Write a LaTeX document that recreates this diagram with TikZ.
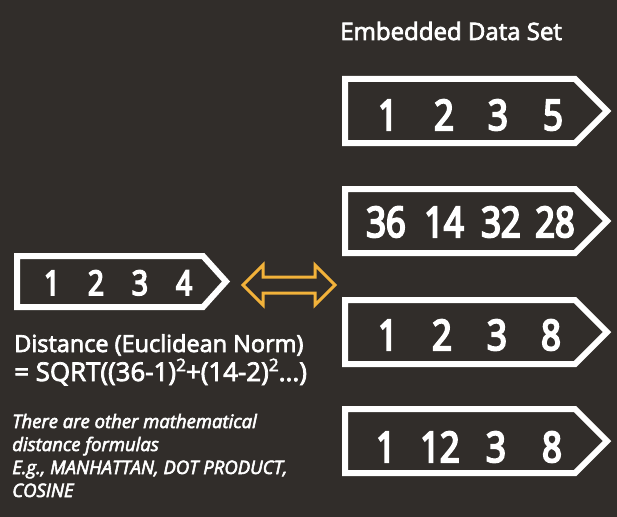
\documentclass[tikz,border=0pt]{standalone}
\usepackage{fontspec}
\setmainfont{Open Sans}[RawFeature={embolden=3}]
\newfontfamily\numfont{Open Sans}[FakeStretch=0.82, RawFeature={embolden=5}]
\definecolor{bgdark}{RGB}{49,45,42}
\definecolor{arrowor}{RGB}{242,178,58}
\tikzset{
  tagframe/.style={draw=white, line width=4.5pt, line join=miter},
  bignum/.style={text=white, inner sep=0pt, anchor=base, font=\numfont\fontsize{31.5}{32}\selectfont},
  smallnum/.style={text=white, inner sep=0pt, anchor=base, font=\numfont\fontsize{25.5}{26}\selectfont},
  lbl/.style={text=white, inner sep=0pt, anchor=base west},
  note/.style={text=white, inner sep=0pt, anchor=base west, font=\itshape\fontsize{13.9}{15}\selectfont},
  dblarrow/.style={draw=arrowor, line width=2.25pt, line join=miter}
}
\newcommand\tagbox[2]{%
  \draw[tagframe] (345,#1-32) coordinate (#2nw) -- (575,#1-32) -- (607,#1) coordinate (#2tip)
    -- (575,#1+32) -- (345,#1+32) -- cycle;}
\newcommand\sqsup{\raisebox{0.38em}{\fontsize{13}{13}\selectfont 2}}
\begin{document}
\begin{tikzpicture}[x=0.75pt,y=-0.75pt]
\fill[bgdark] (0,0) rectangle (617,517);
\useasboundingbox (0,0) rectangle (617,517);

\node[lbl, font=\fontsize{18}{20}\selectfont] (title) at (340,40) {Embedded Data Set};

% right-hand boxes
\tagbox{111}{boxa}
\tagbox{221}{boxb}
\tagbox{332}{boxc}
\tagbox{441}{boxd}

\foreach \x/\t [count=\i] in {388/1,444/2,498/3,553/5}
  \node[bignum] (a\i) at (\x,130) {\t};
\foreach \x/\t [count=\i] in {386/36,444/14,501/32,555/28}
  \node[bignum] (b\i) at (\x,237) {\t};
\foreach \x/\t [count=\i] in {388/1,442/2,497/3,551/8}
  \node[bignum] (c\i) at (\x,350) {\t};
\foreach \x/\t [count=\i] in {386/1,440/12,496/3,552/8}
  \node[bignum] (d\i) at (\x,462) {\t};

% query box
\draw[tagframe] (17,256) coordinate (qnw) -- (203,256) -- (226,281.5) coordinate (qtip)
  -- (203,307) -- (17,307) -- cycle;
\foreach \x/\t [count=\i] in {52/1,96/2,140/3,184/4}
  \node[smallnum] (q\i) at (\x,295) {\t};

% double arrow
\draw[dblarrow] (243,285) coordinate (al) -- (263,265) -- (263,277) -- (315,277) -- (315,265)
  -- (335,285) coordinate (ar) -- (315,305) -- (315,293) -- (263,293) -- (263,305) -- cycle;

% distance text
\node[lbl, font=\fontsize{17.6}{20}\selectfont] (dist1) at (14,352) {Distance (Euclidean Norm)};
\node[lbl, font=\fontsize{19.4}{20}\selectfont] (dist2) at (14,381) {= SQRT((36-1)\sqsup+(14-2)\sqsup...)};

\node[note] (n1) at (12,428) {There are other mathematical};
\node[note] (n2) at (12,451) {distance formulas};
\node[note] (n3) at (12,474) {E.g., MANHATTAN, DOT PRODUCT,};
\node[note] (n4) at (12,497) {COSINE};
\end{tikzpicture}
\end{document}
